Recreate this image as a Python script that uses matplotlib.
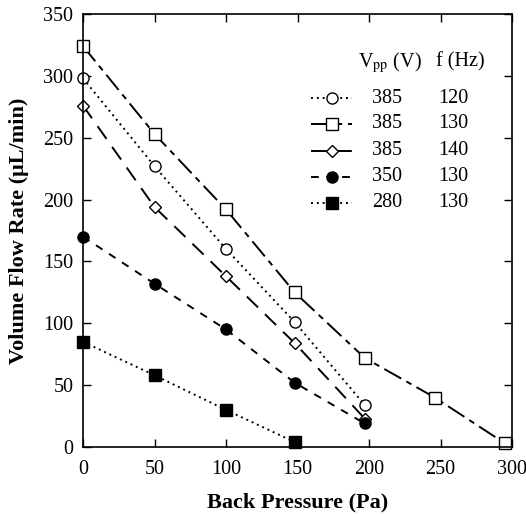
import matplotlib
matplotlib.use("Agg")
import matplotlib.pyplot as plt
from matplotlib.lines import Line2D

plt.rcParams['font.family'] = ['Liberation Serif', 'DejaVu Serif']
plt.rcParams['mathtext.fontset'] = 'stix'

# back pressure (Pa) and flow rate (uL/min)
p_a = [0, 50, 100, 148, 197]
q_a = [298, 227, 160, 101, 34]          # 385 V, 120 Hz
p_b = [0, 50, 100, 148, 197, 246, 295]
q_b = [324, 253, 192, 125, 72, 40, 3]   # 385 V, 130 Hz
p_c = [0, 50, 100, 148, 197]
q_c = [276, 194, 138, 84, 23]           # 385 V, 140 Hz
p_d = [0, 50, 100, 148, 197]
q_d = [170, 132, 95, 52, 19]            # 350 V, 130 Hz
p_e = [0, 50, 100, 148]
q_e = [85, 58, 30, 4]                   # 280 V, 130 Hz

vpp = ['385', '385', '385', '350', '280']
freq = ['120', '130', '140', '130', '130']

styles = [
    dict(ls=(0, (1, 2)), marker='o', mfc='white', ms=8),
    dict(ls=(0, (10, 3, 3, 3)), marker='s', mfc='white', ms=8),
    dict(ls=(0, (8, 5)), marker='D', mfc='white', ms=6),
    dict(ls=(0, (4, 4)), marker='o', mfc='black', ms=8),
    dict(ls=(0, (1, 2)), marker='s', mfc='black', ms=8),
]
series = [(p_a, q_a), (p_b, q_b), (p_c, q_c), (p_d, q_d), (p_e, q_e)]

fig = plt.figure(figsize=(5.26, 5.14), dpi=100)
ax = fig.add_axes([83/526, 67/514, 429/526, 433/514])

for (x, y), st in zip(series, styles):
    ax.plot(x, y, color='black', lw=1.4, mec='black', mew=1.0, clip_on=False, **st)

ax.set_xlim(0, 300)
ax.set_ylim(0, 350)
ax.set_xticks(range(0, 301, 50))
ax.set_yticks(range(0, 351, 50))
ax.tick_params(direction='in', length=6, width=1, top=True, right=True, labelsize=14.5)
ax.tick_params(axis='x', pad=9)
ax.tick_params(axis='y', pad=7)
for s in ax.spines.values():
    s.set_linewidth(1.2)

ax.set_xlabel('Back Pressure (Pa)', fontsize=16, fontweight='bold', labelpad=10)
ax.set_ylabel('Volume Flow Rate (\u03bcL/min)', fontsize=16, fontweight='bold', labelpad=10)

# legend drawn as a small table
ax.text(0.715, 0.889, r'V$_{\mathrm{pp}}$ (V)', transform=ax.transAxes, ha='center', va='center', fontsize=14.5)
ax.text(0.880, 0.889, 'f (Hz)', transform=ax.transAxes, ha='center', va='center', fontsize=14.5)
rows = [0.806, 0.746, 0.684, 0.624, 0.564]
for ry, st, v, f in zip(rows, styles, vpp, freq):
    ln = Line2D([0.532, 0.580, 0.627], [ry, ry, ry], transform=ax.transAxes, color='black',
                lw=1.4, mec='black', mew=1.0, markevery=[1], **st)
    ax.add_line(ln)
    ax.text(0.709, ry, v, transform=ax.transAxes, ha='center', va='center', fontsize=14.5)
    ax.text(0.863, ry, f, transform=ax.transAxes, ha='center', va='center', fontsize=14.5)

fig.savefig('out.png', dpi=100)
